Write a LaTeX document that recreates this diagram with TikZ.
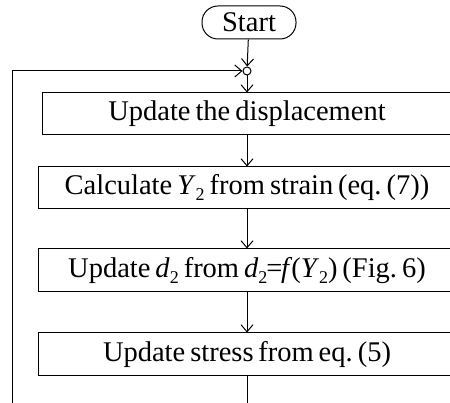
\documentclass[tikz,border=0pt]{standalone}
\usepackage{fontspec}
\setmainfont[WordSpace=0.7]{Liberation Serif}
\usetikzlibrary{arrows.meta}
\newcommand{\lowsub}[1]{\raisebox{-0.2em}{\fontsize{18}{18}\selectfont #1}}
\newcommand{\tighteq}{\kern-1.2pt=\kern-1.2pt}
\tikzset{
  flowline/.style={line width=1pt},
  flowarrow/.style={flowline,-{Straight Barb[length=7pt,width=12pt,line width=1pt]}},
  procbox/.style={draw,line width=1pt,rectangle,inner sep=0pt,minimum height=42pt,
    font=\fontsize{28.5}{32}\selectfont},
  startbox/.style={draw,line width=1pt,rectangle,rounded corners=16pt,inner sep=0pt,
    minimum width=94pt,minimum height=33pt,font=\fontsize{28.5}{32}\selectfont},
  joint/.style={draw,line width=1pt,circle,fill=white,inner sep=0pt,minimum size=8pt}
}
\begin{document}
\begin{tikzpicture}[x=1pt,y=-1pt]
\useasboundingbox (0,0) rectangle (450,403);
\clip (0,0) rectangle (450,403);

% start terminal and the merge point of the loop
\node[startbox] (start) at (249,22.5) {Start};
\node[joint] (merge) at (247,71) {};

% process steps
\node[procbox,minimum width=410pt] (upd) at (247,114)
  {Update the displacement};
\node[procbox,minimum width=418pt] (calc) at (247,188)
  {Calculate \textit{Y}\lowsub{2} from strain\,(eq.~(7))};
\node[procbox,minimum width=418pt,minimum height=43pt] (dmg) at (247,270.5)
  {Update \textit{d}\lowsub{2} from \textit{d}\lowsub{2}\tighteq\textit{f}\kern-1pt(\textit{Y}\lowsub{2})\,(Fig.~6)};
\node[procbox,minimum width=418pt,minimum height=43pt] (stress) at (247,354.5)
  {Update stress\,from eq.~(5)};

\coordinate (back) at (12,420);

% connectors
\draw[flowarrow] (start) -- (merge);
\draw[flowarrow] (merge) -- (upd);
\draw[flowarrow] (upd) -- (calc);
\draw[flowarrow] (calc) -- (dmg);
\draw[flowarrow] (dmg) -- (stress);
\draw[flowarrow] (stress.south) |- (back) |- (merge);
\end{tikzpicture}
\end{document}
